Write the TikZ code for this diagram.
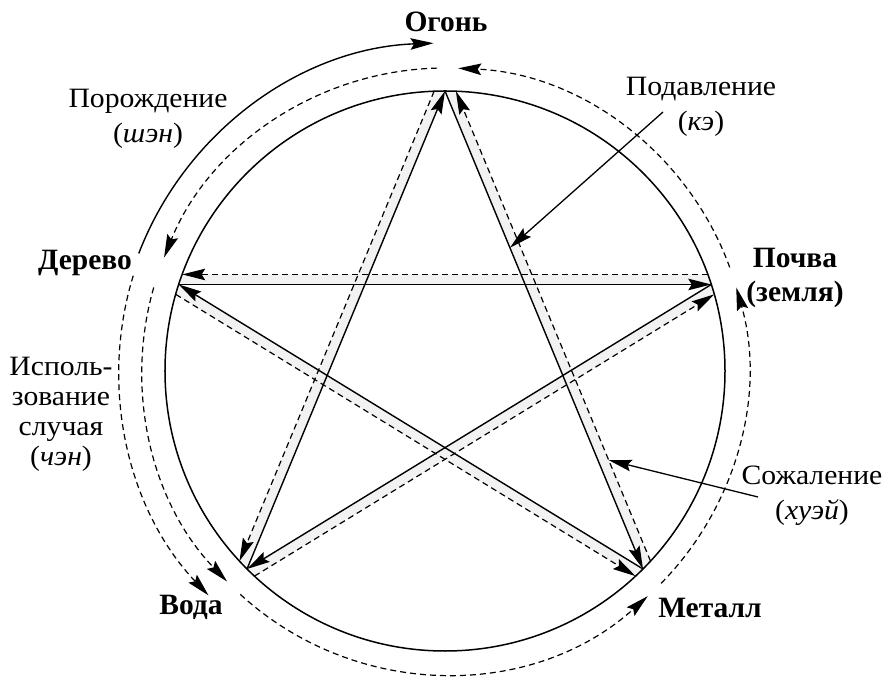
\documentclass[tikz,border=0pt]{standalone}
\usepackage{fontspec}
\setmainfont{Liberation Serif}
\newfontfamily\lblfont[FakeStretch=1.06]{Liberation Serif}
\usetikzlibrary{arrows.meta,calc}
\begin{document}
\begin{tikzpicture}[x=1pt,y=1pt,
  ringline/.style={line width=1.5pt},
  chordsolid/.style={line width=1.4pt},
  chorddash/.style={line width=1.2pt, dash pattern=on 6pt off 4pt},
  arcsolid/.style={line width=1.4pt},
  arcdash/.style={line width=1.2pt, dash pattern=on 6pt off 4pt},
  band/.style={fill=black!5},
  tipped/.style={-{Stealth[length=23pt,width=11.5pt,inset=3.5pt]}},
  lbl/.style={font=\lblfont\fontsize{28}{35}\selectfont, align=center, inner sep=0pt},
  multi/.style={font=\lblfont\fontsize{28}{30}\selectfont, align=center, inner sep=0pt},
  elem/.style={font=\fontsize{29.5}{34}\selectfont\bfseries, align=center, inner sep=0pt},
  pointer/.style={line width=1.3pt},
]
\fill[white] (-445,-313) rectangle (445,371);
\useasboundingbox (-445,-313) rectangle (445,371);

% vertices of the star on the circle
\coordinate (O) at (0,0);
\coordinate (fire) at (90:280);
\coordinate (earth) at (18:280);
\coordinate (metal) at (-45:280);
\coordinate (water) at (225:280);
\coordinate (wood) at (162:280);

% dashed parallel chords (offset 10 outward)
\coordinate (dFMa) at (87.77:280);   \coordinate (dFMb) at (-42.77:280);
\coordinate (dFWa) at (92.23:280);   \coordinate (dFWb) at (222.77:280);
\coordinate (dWEa) at (159.83:280);  \coordinate (dWEb) at (20.17:280);
\coordinate (dWMa) at (164.11:280);  \coordinate (dWMb) at (312.89:280);
\coordinate (dWaEa) at (227.11:280); \coordinate (dWaEb) at (15.89:280);

% light bands
\fill[band] (fire) -- (metal) -- (dFMb) -- (dFMa) -- cycle;
\fill[band] (fire) -- (water) -- (dFWb) -- (dFWa) -- cycle;
\fill[band] (wood) -- (earth) -- (dWEb) -- (dWEa) -- cycle;
\fill[band] (wood) -- (metal) -- (dWMb) -- (dWMa) -- cycle;
\fill[band] (water) -- (earth) -- (dWaEb) -- (dWaEa) -- cycle;

% circle
\draw[ringline] (O) circle[radius=280];

% solid chords (control cycle)
\draw[chordsolid, tipped] (wood) -- (earth);
\draw[chordsolid, tipped] (earth) -- (water);
\draw[chordsolid, tipped] (water) -- (fire);
\draw[chordsolid, tipped] (fire) -- (metal);
\draw[chordsolid, tipped] (metal) -- (wood);

% dashed chords (reverse cycle)
\draw[chorddash, tipped] (dWEb) -- (dWEa);
\draw[chorddash, tipped] (dWMa) -- (dWMb);
\draw[chorddash, tipped] (dFMb) -- (dFMa);
\draw[chorddash, tipped] (dFWa) -- (dFWb);
\draw[chorddash, tipped] (dWaEa) -- (dWaEb);

% outer arcs
\coordinate (shenA) at (159:328);
\draw[arcsolid, tipped] (shenA) arc[start angle=159, end angle=92, radius=328];
\coordinate (ia) at (91.5:303);
\draw[arcdash, tipped] (ia) arc[start angle=91.5, end angle=158, radius=303];
\coordinate (ib) at (164:303);
\draw[arcdash, tipped] (ib) arc[start angle=164, end angle=224, radius=303];
\coordinate (ic) at (227.5:303);
\draw[arcdash, tipped] (ic) arc[start angle=227.5, end angle=312, radius=303];
\coordinate (id) at (315.5:303);
\draw[arcdash, tipped] (id) arc[start angle=315.5, end angle=376, radius=303];
\coordinate (ie) at (20:303);
\draw[arcdash, tipped] (ie) arc[start angle=20, end angle=87.5, radius=303];
\coordinate (oa) at (163:326);
\draw[arcdash, tipped] (oa) arc[start angle=163, end angle=223.5, radius=326];

% labels
\node[elem] (lfire) at (1,349) {Огонь};
\node[elem] (lwood) at (-360,108) {Дерево};
\node[elem] (learth) at (350,93) {Почва\\(земля)};
\node[elem] (lwater) at (-254,-236) {Вода};
\node[elem] (lmetal) at (265,-237) {Металл};
\node[lbl] (lshen) at (-297,252) {Порождение\\(\textit{шэн})};
\node[lbl] (lke) at (256,264) {Подавление\\(\textit{кэ})};
\node[lbl] (lhui) at (367,-125) {Сожаление\\(\textit{хуэй})};
\node[multi] (lchen) at (-384,-43) {Исполь-\\зование\\случая\\(\textit{чэн})};

% pointers
\coordinate (keTail) at (218,259);
\coordinate (keTip) at ($(fire)!0.328!(metal)$);
\draw[pointer, tipped] (keTail) -- (keTip);
\coordinate (huiTail) at (313,-126);
\coordinate (huiTip) at ($(dFMa)!0.785!(dFMb)$);
\draw[pointer, tipped] (huiTail) -- (huiTip);
\end{tikzpicture}
\end{document}
